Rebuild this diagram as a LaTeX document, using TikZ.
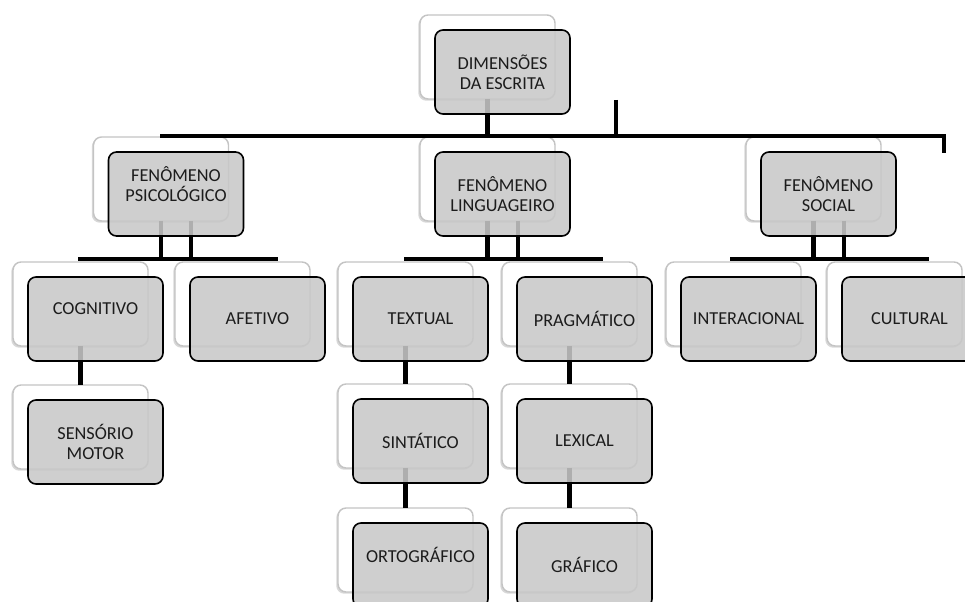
\documentclass[tikz,border=0pt]{standalone}
\usepackage{fontspec}
\setmainfont{Carlito}
\usetikzlibrary{shadows}
\definecolor{frontfill}{RGB}{200,200,200}
\definecolor{backline}{RGB}{196,196,196}
\definecolor{txtcol}{RGB}{28,28,28}
\tikzset{
  backbox/.style={rectangle, rounded corners=6pt, draw=backline, line width=1.1pt,
    fill=white, minimum width=101.25pt, minimum height=63pt, inner sep=0pt, outer sep=0pt,
    drop shadow={shadow xshift=-1.3pt, shadow yshift=-1.3pt, opacity=0.22, fill=black!70}},
  frontbox/.style={rectangle, rounded corners=6pt, draw=black, line width=1.2pt,
    fill=frontfill, fill opacity=0.87, draw opacity=1, text opacity=1,
    minimum width=101.25pt, minimum height=63pt, inner sep=0pt, outer sep=0pt,
    align=center, font=\fontsize{13.7}{15}\selectfont, text=txtcol},
  lbl/.style={align=center, inner sep=0pt, font=\fontsize{13.7}{15}\selectfont, text=txtcol},
  conn/.style={line width=3.4pt, draw=black, line join=miter}
}
\begin{document}
\begin{tikzpicture}[x=0.75pt, y=-0.75pt]
\useasboundingbox (0,0) rectangle (965,602);
\clip (0,0) rectangle (965,602);

% ---- back boxes ----
\node[backbox] (rootB) at (487.5,57) {};
\node[backbox] (psiB) at (161,179) {};
\node[backbox] (linB) at (487.5,179) {};
\node[backbox] (socB) at (813.5,179) {};
\node[backbox] (cogB) at (80.5,304) {};
\node[backbox] (afeB) at (242.5,304) {};
\node[backbox] (senB) at (80.5,427) {};
\node[backbox] (texB) at (405.5,304) {};
\node[backbox] (praB) at (569.5,304) {};
\node[backbox] (sinB) at (405.5,426) {};
\node[backbox] (ortB) at (405.5,550) {};
\node[backbox] (lexB) at (569.5,426) {};
\node[backbox] (graB) at (569.5,550) {};
\node[backbox] (intB) at (733.5,304) {};
\node[backbox] (culB) at (894.5,304) {};

% ---- connectors ----
\coordinate (busL) at (160,136);
\coordinate (busR) at (944,136);
\coordinate (busEnd) at (944,153);
\coordinate (stubTop) at (616,100);
\draw[conn] (busL) -- (busR) -- (busEnd);
\draw[conn] (rootB.south) -- (rootB.south |- busL);
\draw[conn] (stubTop) -- (stubTop |- busL);

\coordinate (psiBusL) at (78,259);
\coordinate (psiBusR) at (278,259);
\draw[conn] (psiBusL) -- (psiBusR);
\draw[conn] (psiB.south) -- (psiB.south |- psiBusL);
\draw[conn] ([xshift=22.5pt]psiB.south) -- ([xshift=22.5pt]psiB.south |- psiBusL);

\coordinate (linBusL) at (404,259);
\coordinate (linBusR) at (603,259);
\draw[conn] (linBusL) -- (linBusR);
\draw[conn] (linB.south) -- (linB.south |- linBusL);
\draw[conn] ([xshift=23pt]linB.south) -- ([xshift=23pt]linB.south |- linBusL);

\coordinate (socBusL) at (730,259);
\coordinate (socBusR) at (929,259);
\draw[conn] (socBusL) -- (socBusR);
\draw[conn] (socB.south) -- (socB.south |- socBusL);
\draw[conn] ([xshift=23pt]socB.south) -- ([xshift=23pt]socB.south |- socBusL);

\draw[conn] (cogB.south) -- (senB.north);
\draw[conn] (texB.south) -- (sinB.north);
\draw[conn] (sinB.south) -- (ortB.north);
\draw[conn] (praB.south) -- (lexB.north);
\draw[conn] (lexB.south) -- (graB.north);

% ---- front boxes ----
\node[frontbox] (root) at (502.5,72) {DIMENSÕES\\DA ESCRITA};
\node[frontbox] (psi) at (176,194) {};
\node[lbl] at ([yshift=7.5pt]psi.center) {FENÔMENO\\PSICOLÓGICO};
\node[frontbox] (lin) at (502.5,194) {FENÔMENO\\LINGUAGEIRO};
\node[frontbox] (soc) at (828.5,194) {FENÔMENO\\SOCIAL};
\node[frontbox] (cog) at (95.5,319) {};
\node[lbl] at ([yshift=7.5pt]cog.center) {COGNITIVO};
\node[frontbox] (afe) at (257.5,319) {AFETIVO};
\node[frontbox] (sen) at (95.5,442) {SENSÓRIO\\MOTOR};
\node[frontbox] (tex) at (420.5,319) {TEXTUAL};
\node[frontbox] (pra) at (584.5,319) {PRAGMÁTICO};
\node[frontbox] (sin) at (420.5,441) {SINTÁTICO};
\node[frontbox] (ort) at (420.5,565) {};
\node[lbl] at ([yshift=7.5pt]ort.center) {ORTOGRÁFICO};
\node[frontbox] (lex) at (584.5,441) {LEXICAL};
\node[frontbox] (gra) at (584.5,565) {GRÁFICO};
\node[frontbox] (int) at (748.5,319) {INTERACIONAL};
\node[frontbox] (cul) at (909.5,319) {CULTURAL};
\end{tikzpicture}
\end{document}
